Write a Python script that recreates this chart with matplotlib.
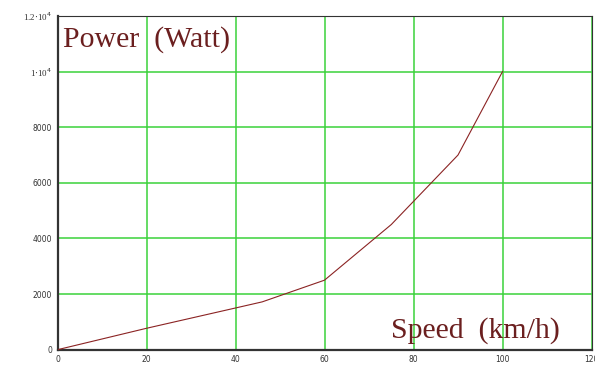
"""Power vs speed curve, Mathcad-style plot."""
import matplotlib
matplotlib.use("Agg")
import matplotlib.pyplot as plt

speed = [0, 20, 40, 46, 60, 75, 90, 100]
power = [0, 770, 1500, 1720, 2500, 4500, 7000, 10000]

x_ticks = [0, 20, 40, 60, 80, 100, 120]
y_ticks = [0, 2000, 4000, 6000, 8000, 10000, 12000]
y_tick_labels = ["0", "2000", "4000", "6000", "8000",
                 r"1$\cdot$10$^{4}$", r"1.2$\cdot$10$^{4}$"]

GRID = "#3ad23a"
CURVE = "#8b2323"
TEXT = "#6b1f1f"

fig = plt.figure(figsize=(5.95, 3.65), dpi=100)
ax = fig.add_axes([57.5 / 595, (365 - 349.7) / 365,
                   (591.5 - 57.5) / 595, (349.7 - 16) / 365])

ax.plot(speed, power, color=CURVE, lw=0.8, zorder=3)

ax.set_xlim(0, 120)
ax.set_ylim(0, 12000)
ax.set_xticks(x_ticks)
ax.set_yticks(y_ticks)
ax.set_xticklabels([str(t) for t in x_ticks], fontsize=5.5, color="#333333")
ax.set_yticklabels(y_tick_labels, fontsize=5.5, color="#333333")
for lab in ax.get_yticklabels()[-2:]:
    lab.set_family("Liberation Serif")
    lab.set_fontsize(6.5)
ax.tick_params(length=0, pad=4)

ax.grid(True, color=GRID, lw=1.1)
ax.set_axisbelow(True)
for s in ["top", "right"]:
    ax.spines[s].set_linewidth(0.8)
    ax.spines[s].set_color("#333333")
for s in ["left", "bottom"]:
    ax.spines[s].set_linewidth(1.6)
    ax.spines[s].set_color("#333333")

ax.text(0.01, 0.97, "Power  (Watt)", transform=ax.transAxes,
        family="Liberation Serif", fontsize=21.5, color=TEXT,
        ha="left", va="top")
ax.text(0.94, 0.016, "Speed  (km/h)", transform=ax.transAxes,
        family="Liberation Serif", fontsize=21.5, color=TEXT,
        ha="right", va="bottom")

fig.savefig("out.png", dpi=100)
